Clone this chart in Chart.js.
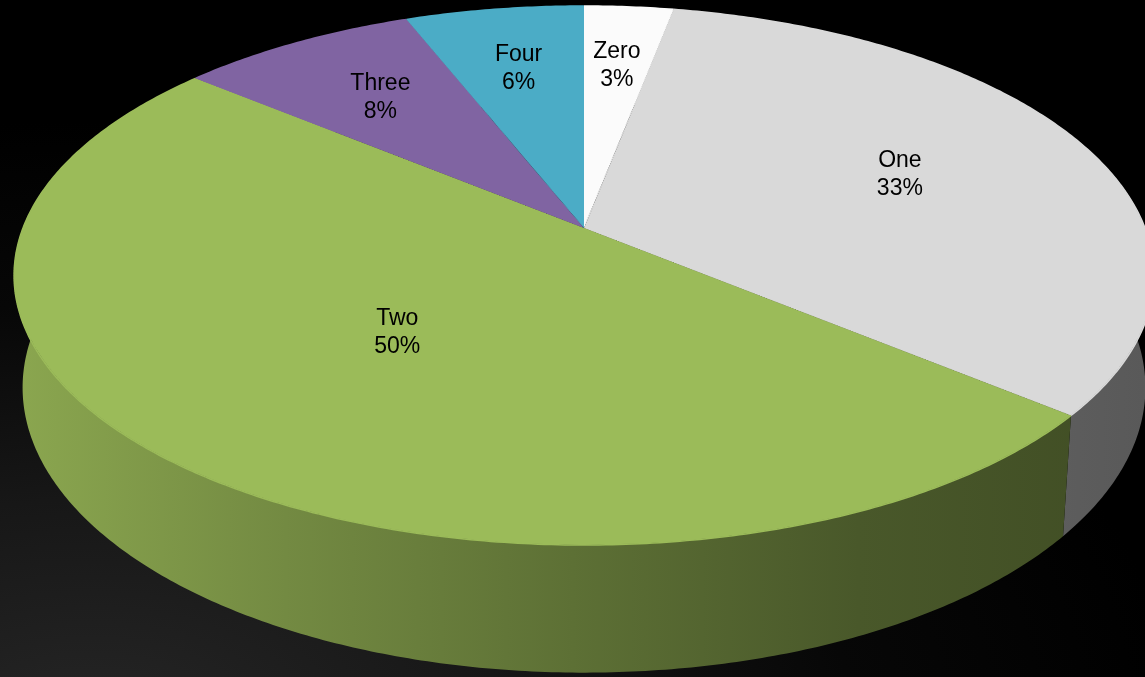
<!DOCTYPE html>
<html>
<head>
<meta charset="utf-8">
<script src="https://cdn.jsdelivr.net/npm/chart.js@4.4.1/dist/chart.umd.min.js"></script>
<style>
  html, body { margin: 0; padding: 0; width: 1145px; height: 677px; overflow: hidden; background: #000; }
  #stage {
    position: absolute; left: 0; top: 0; width: 1145px; height: 677px; overflow: hidden;
    background: radial-gradient(ellipse 95% 90% at 8% 108%, #262626 0%, #171717 38%, #070707 70%, #000 100%);
  }
  #stage canvas { position: absolute; left: 0; top: 0; }
  #walls { z-index: 1; }
  #pie { z-index: 2; transform-origin: 0 0; }
  #labels { z-index: 3; }
</style>
</head>
<body>
<div id="stage">
  <canvas id="walls" width="1145" height="677"></canvas>
  <canvas id="pie" width="1200" height="1200"></canvas>
  <canvas id="labels" width="1145" height="677"></canvas>
</div>
<script>
// Number of items per share bucket
const categories = ['Zero', 'One', 'Two', 'Three', 'Four'];
const shares = [3, 33, 50, 8, 6];
const sliceColors = ['#fbfbfb', '#d9d9d9', '#9bbb59', '#8064a2', '#4bacc6'];

// Tilted-disc camera: a point (u, v) on the unit disc, dropped by `drop`
// (0 = top face, 1 = bottom rim), lands at
//   x = CX + A*u / w,  y = (P*v + Q + D*drop) / w,  w = 1 + K*v + E*drop
const VIEW = { CX: 584, A: 561, K: 0.1763, P: -220.94, Q: 228, D: 115, E: 0.0147 };
function project(u, v, drop) {
  const w = 1 + VIEW.K * v + VIEW.E * drop;
  return [VIEW.CX + VIEW.A * u / w, (VIEW.P * v + VIEW.Q + VIEW.D * drop) / w];
}

// side-wall lighting across the screen (light comes from the left)
const WALL_LIGHT = [[0, 0.90], [0.25, 0.74], [0.5, 0.60], [0.75, 0.47], [1, 0.41]];

function hexRgb(h) {
  const n = parseInt(h.slice(1), 16);
  return [(n >> 16) & 255, (n >> 8) & 255, n & 255];
}
function wallGradient(ctx, color, width) {
  const g = ctx.createLinearGradient(0, 0, width, 0);
  const c = hexRgb(color);
  WALL_LIGHT.forEach(([t, f]) => {
    g.addColorStop(t, `rgb(${Math.round(c[0] * f)},${Math.round(c[1] * f)},${Math.round(c[2] * f)})`);
  });
  return g;
}

function rimPoints(arc, drop) {
  const a0 = arc.startAngle, a1 = arc.endAngle;
  const steps = Math.max(8, Math.ceil((a1 - a0) / 0.01));
  const pts = [];
  for (let s = 0; s <= steps; s++) {
    const a = a0 + (a1 - a0) * s / steps;
    pts.push(project(Math.cos(a), -Math.sin(a), drop));
  }
  return pts;
}

function drawWalls(arcs) {
  const cv = document.getElementById('walls');
  const ctx = cv.getContext('2d');
  ctx.clearRect(0, 0, cv.width, cv.height);
  // far walls first, near walls on top
  const order = arcs.map((a, i) => i).sort((i, j) => {
    const mi = (arcs[i].startAngle + arcs[i].endAngle) / 2;
    const mj = (arcs[j].startAngle + arcs[j].endAngle) / 2;
    return (-Math.sin(mj)) - (-Math.sin(mi));
  });
  order.forEach(i => {
    const top = rimPoints(arcs[i], 0);
    const bottom = rimPoints(arcs[i], 1).reverse();
    ctx.beginPath();
    top.concat(bottom).forEach((p, k) => k === 0 ? ctx.moveTo(p[0], p[1]) : ctx.lineTo(p[0], p[1]));
    ctx.closePath();
    ctx.fillStyle = wallGradient(ctx, sliceColors[i], cv.width);
    ctx.fill();
    // soft edge where the top face meets the wall
    ctx.beginPath();
    top.forEach((p, k) => k === 0 ? ctx.moveTo(p[0], p[1]) : ctx.lineTo(p[0], p[1]));
    ctx.strokeStyle = sliceColors[i];
    ctx.lineWidth = 1.5;
    ctx.stroke();
  });
}

function drawLabels(arcs) {
  const cv = document.getElementById('labels');
  const ctx = cv.getContext('2d');
  ctx.clearRect(0, 0, cv.width, cv.height);
  const total = shares.reduce((s, v) => s + v, 0);
  ctx.font = '23px Arial, "Liberation Sans", sans-serif';
  ctx.fillStyle = '#000';
  ctx.textAlign = 'center';
  ctx.textBaseline = 'middle';
  arcs.forEach((arc, i) => {
    // along the slice's middle ray, further out for slices at the back
    const mid = (arc.startAngle + arc.endAngle) / 2;
    const u = Math.cos(mid), v = -Math.sin(mid);
    const r = 0.58 + 0.12 * v;
    const [x, y] = project(r * u, r * v, 0);
    ctx.fillText(categories[i], x, y - 14);
    ctx.fillText(Math.round(shares[i] / total * 100) + '%', x, y + 14);
  });
}

// Lays the flat pie onto the tilted top face and draws rims and labels
const tiltPlugin = {
  id: 'tilt',
  afterDraw(chart) {
    const arcs = chart.getDatasetMeta(0).data;
    const cx = arcs[0].x, cy = arcs[0].y, R = arcs[0].outerRadius;
    const { CX, A, K, P, Q } = VIEW;
    const m = [
      A / R, 0, 0, 0,
      -CX * K / R, -P / R, 0, -K / R,
      0, 0, 1, 0,
      CX + CX * K * cy / R - A * cx / R, P * cy / R + Q, 0, 1 + K * cy / R
    ];
    chart.canvas.style.transform = 'matrix3d(' + m.join(',') + ')';
    drawWalls(arcs);
    drawLabels(arcs);
  }
};

new Chart(document.getElementById('pie'), {
  type: 'pie',
  data: {
    labels: categories,
    datasets: [{
      data: shares,
      backgroundColor: sliceColors,
      borderWidth: 0
    }]
  },
  options: {
    responsive: false,
    animation: false,
    layout: { padding: 0 },
    plugins: { legend: { display: false }, tooltip: { enabled: false } }
  },
  plugins: [tiltPlugin]
});
</script>
</body>
</html>
